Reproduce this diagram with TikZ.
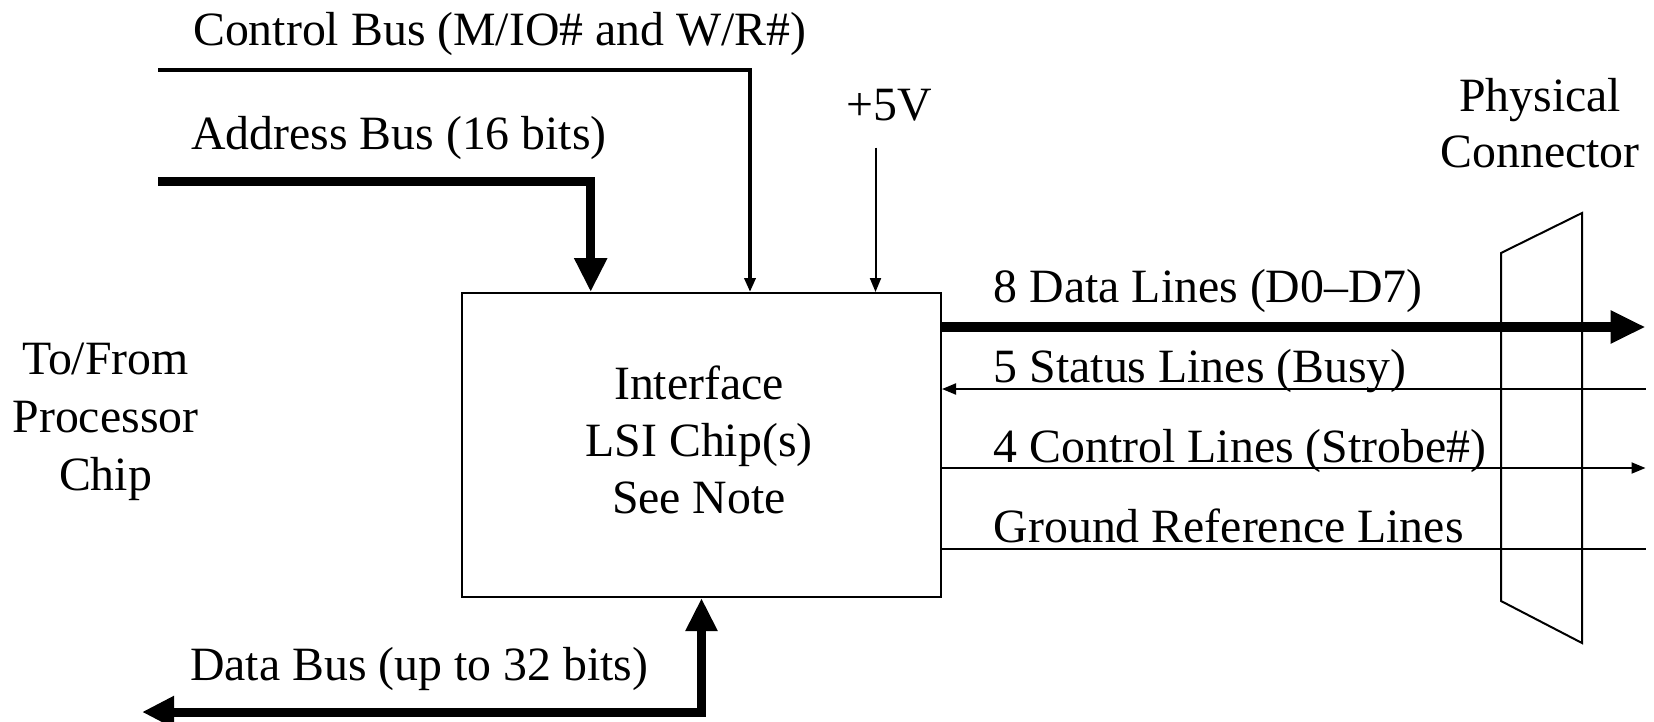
\documentclass[tikz,border=0pt]{standalone}
\usepackage{fontspec}
\setmainfont{Liberation Serif}
\usetikzlibrary{arrows.meta}
\begin{document}
\begin{tikzpicture}[x=1pt,y=-1pt,
  font=\fontsize{47.8}{57}\selectfont,
  lbl/.style={inner sep=0pt, anchor=base west},
  clbl/.style={inner sep=0pt, anchor=base},
  wire/.style={line width=2pt},
  bus/.style={line width=9pt},
  cbus/.style={line width=4pt},
  smallhead/.style={-{Triangle[length=14pt,width=11pt]}},
  bighead/.style={-{Triangle[length=34pt,width=31pt]}},
  line join=miter]
\useasboundingbox (0,0) rectangle (1654,721);

% main chip
\node[draw, line width=2pt, minimum width=479pt, minimum height=304pt,
      inner sep=0pt] (chip) at (701.5,445) {};
\node[align=center, inner sep=0pt] (chiptext) at (699,440)
  {Interface\\LSI Chip(s)\\See Note};

% left label
\node[align=center, inner sep=0pt, font=\fontsize{47.8}{58}\selectfont] (proc) at (105.5,421.5) {To/From\\Processor\\Chip};

% top labels
\node[lbl] (cbl) at (193,45) {Control Bus (M/IO\# and W/R\#)};
\node[lbl] (abl) at (191,149) {Address Bus (16 bits)};
\node[clbl] (v5) at (889,120) {+5V};
\node[lbl] (dbl) at (190,680) {Data Bus (up to 32 bits)};

% right labels
\node[lbl] (l8) at (993.6,302) {8 Data Lines (D0--D7)};
\node[lbl] (l5) at (993.6,382) {5 Status Lines (Busy)};
\node[lbl] (l4) at (993.6,462) {4 Control Lines (Strobe\#)};
\node[lbl] (lg) at (993.6,542) {Ground Reference Lines};
\node[align=center, inner sep=0pt, font=\fontsize{47.8}{56}\selectfont] (phys) at (1540,123) {Physical\\Connector};

% free ends
\coordinate (cbstart) at (158,69.6);
\coordinate (abstart) at (158,181.4);
\coordinate (v5start) at (875.5,147.7);
\coordinate (dbend) at (142,712);
\coordinate (e8) at (1645.5,327);
\coordinate (e5) at (1645.5,389);
\coordinate (e4) at (1645.5,468);
\coordinate (eg) at (1645.5,548.5);

% buses from processor side
\draw[cbus, smallhead] (cbstart) -| ([xshift=48.5pt]chip.north);
\draw[bus, bighead] (abstart) -| ([xshift=-110.8pt]chip.north);
\draw[wire, smallhead] (v5start) -- (v5start |- chip.north);
\draw[bus, {Triangle[length=32pt,width=30pt]}-{Triangle[length=33pt,width=30pt]}]
  (dbend) -| (chip.south);

% connector
\draw[wire] (1501,253) -- (1582,213) -- (1582,643) -- (1501,601) -- cycle;

% lines to connector
\draw[line width=10pt, -{Triangle[length=35pt,width=31pt]}] (chip.east |- e8) -- (e8);
\draw[wire, smallhead] (e5) -- (chip.east |- e5);
\draw[wire, smallhead] (chip.east |- e4) -- (e4);
\draw[wire] (chip.east |- eg) -- (eg);
\end{tikzpicture}
\end{document}
